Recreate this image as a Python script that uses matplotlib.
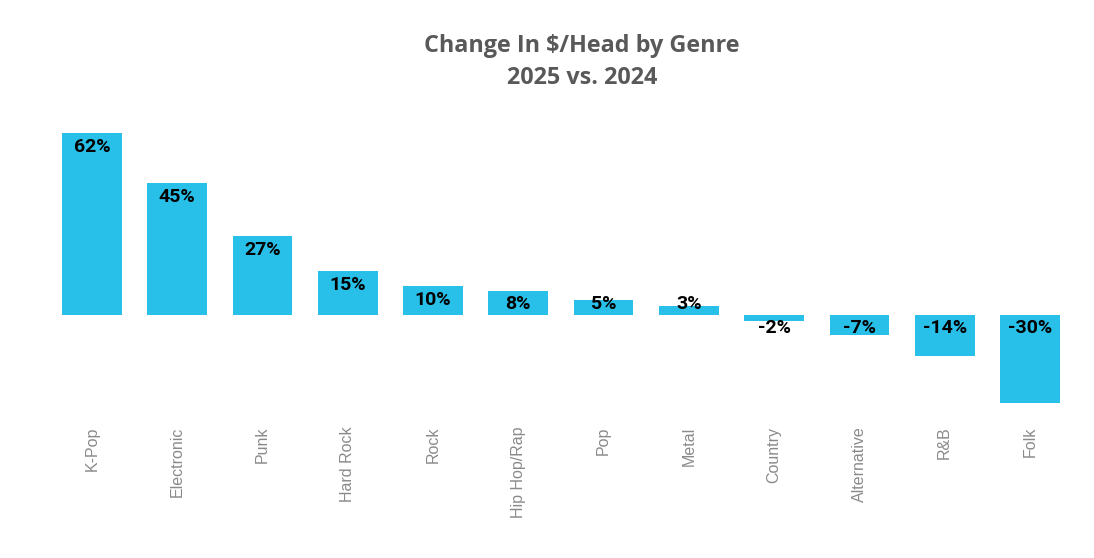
import matplotlib
matplotlib.use('Agg')
import matplotlib.pyplot as plt

genres = ['K-Pop', 'Electronic', 'Punk', 'Hard Rock', 'Rock', 'Hip Hop/Rap',
          'Pop', 'Metal', 'Country', 'Alternative', 'R&B', 'Folk']
change = [62, 45, 27, 15, 10, 8, 5, 3, -2, -7, -14, -30]

fig = plt.figure(figsize=(10.94, 5.58), dpi=100)
ax = fig.add_axes([0.045, 0.2778, 0.9355, 0.4838])

x = list(range(len(genres)))
ax.bar(x, change, width=0.70, color='#28BFE8')

# labels sit inside the bar end, but never closer to the baseline than a fixed gap
for i, v in enumerate(change):
    if v > 0:
        yl = max(v - 4.8, 3.8)
    else:
        yl = -4.4
    ax.text(i, yl, f'{v}%', ha='center', va='center', fontsize=14,
            fontweight='bold', family='Roboto', color='black')

ax.set_xlim(-0.5, len(genres) - 0.5)
ax.set_ylim(-30, 62)
ax.set_xticks(x)
ax.set_xticklabels(genres, rotation=90, fontsize=11.5, color='#8a8a8a',
                   family='Liberation Sans', va='top')
ax.tick_params(axis='x', length=0, pad=17)
ax.set_yticks([])
for s in ax.spines.values():
    s.set_visible(False)

fig.text(0.532, 0.889, 'Change In $/Head by Genre\n2025 vs. 2024', ha='center', va='center',
         fontsize=16.8, fontweight='bold', family='Open Sans', color='#595959', linespacing=1.4)

fig.savefig('out.png', dpi=100)
